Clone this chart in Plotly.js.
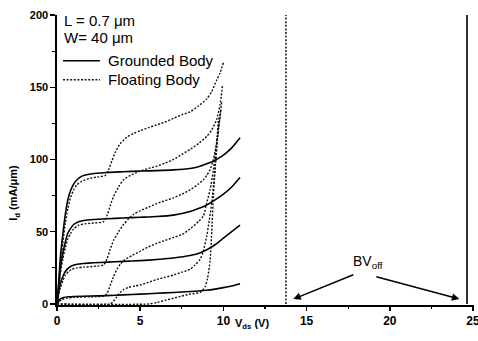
<!DOCTYPE html>
<html>
<head>
<meta charset="utf-8">
<script src="https://cdn.plot.ly/plotly-3.0.1.min.js"></script>
<style>html,body{margin:0;padding:0;background:#fff;}#chart{width:478px;height:341px;}</style>
</head>
<body>
<div id="chart"></div>
<script>
// Grounded body (solid) curves: Vds (V) and Id (mA/um)
var g1V = [0, 0.1, 0.2, 0.35, 0.5, 0.65, 0.8, 1.0, 1.2, 1.5, 2, 3, 4, 5, 6, 7, 8, 8.5, 9, 9.5, 10, 10.5, 11];
var g1I = [0, 15, 32, 48, 62, 72, 78, 83, 86, 88.5, 90, 91, 91.5, 92, 92.3, 92.8, 93.8, 95, 97, 99.5, 103, 108, 115];
var g2V = [0, 0.1, 0.2, 0.35, 0.5, 0.65, 0.8, 1.0, 1.3, 1.7, 2.2, 3, 4, 5, 6, 7, 8, 8.5, 9, 9.5, 10, 10.5, 11];
var g2I = [0, 12, 24, 35, 43, 49, 52, 55, 57, 58, 58.5, 59, 59.5, 60, 60.5, 61.5, 64, 66, 68.5, 72, 76, 81, 87.5];
var g3V = [0, 0.1, 0.2, 0.35, 0.5, 0.7, 0.9, 1.2, 1.6, 2.2, 3, 4, 5, 6, 7, 8, 8.5, 9, 9.5, 10, 10.5, 11];
var g3I = [0, 8, 14, 19, 22.5, 25, 26.5, 27.5, 28, 28.5, 29, 29.5, 30, 30.8, 31.8, 33.5, 35, 37.5, 41, 45.5, 50, 54.5];
var g4V = [0, 0.1, 0.2, 0.4, 0.7, 1, 2, 3, 4, 5, 6, 7, 8, 9, 9.5, 10, 10.5, 11];
var g4I = [0, 2, 3.5, 4.5, 5, 5.2, 5.5, 5.8, 6.3, 6.8, 7.4, 8, 8.6, 9.5, 10.3, 11.3, 12.5, 14];

// Floating body (dotted) curves
var f1V = [0, 0.1, 0.2, 0.35, 0.5, 0.65, 0.8, 1.0, 1.2, 1.5, 2, 2.5, 2.9, 3.1, 3.3, 3.5, 3.8, 4.2, 4.6, 5, 5.5, 6, 6.5, 7, 7.5, 8, 8.5, 9, 9.3, 9.6, 9.8, 10.0];
var f1I = [0, 12, 27, 42, 56, 66, 73, 79, 82.5, 85, 87, 88, 89, 93, 99, 105, 111, 115.5, 118, 120, 122, 124, 126, 128.5, 131, 133, 137, 142, 147, 155, 160, 167];
var f2V = [0, 0.1, 0.2, 0.35, 0.5, 0.65, 0.8, 1.0, 1.3, 1.7, 2.2, 2.8, 3.0, 3.2, 3.4, 3.7, 4.0, 4.5, 5, 5.5, 6, 6.5, 7, 7.5, 8, 8.5, 9, 9.3, 9.6, 9.8, 9.95];
var f2I = [0, 10, 21, 31, 39, 45, 48.5, 52, 54.5, 55.5, 56, 57, 61, 68, 74.5, 81, 86, 89.5, 92, 93.8, 95.4, 97.5, 100, 103.5, 107, 111, 116, 120.5, 128, 138, 152];
var f3V = [0, 0.1, 0.2, 0.35, 0.5, 0.7, 0.9, 1.2, 1.6, 2.2, 2.8, 3.0, 3.2, 3.4, 3.7, 4.0, 4.3, 4.6, 5, 5.5, 6, 6.5, 7, 7.5, 8, 8.5, 8.8, 9.0, 9.2, 9.4, 9.6, 9.75, 9.9];
var f3I = [0, 6, 11, 16, 20, 22.5, 24, 25, 25.5, 26, 27, 31, 38, 44, 50, 55, 59, 62, 64.5, 67, 69.5, 71.5, 73.5, 76, 79, 83, 86, 89, 93, 100, 112, 125, 140];
var f4V = [0, 0.1, 0.3, 0.6, 1, 2, 2.8, 3.0, 3.2, 3.4, 3.6, 3.8, 4.0, 4.5, 5, 5.5, 6, 6.5, 7, 7.5, 8, 8.5, 8.8, 9.0, 9.2, 9.4, 9.6, 9.85];
var f4I = [0, 1.5, 3, 4, 4.5, 5, 5.5, 7, 13, 19, 24, 27.5, 30, 33.5, 36.5, 39.5, 42, 44, 46, 48, 52, 57, 61, 70, 79, 93, 112, 135];
var f5V = [0, 3.2, 3.4, 3.6, 3.8, 4.0, 4.3, 4.7, 5, 5.5, 6, 6.5, 7, 7.5, 8, 8.3, 8.6, 8.8, 9.0, 9.15, 9.3, 9.45, 9.6, 9.75];
var f5I = [0, 0, 2, 5, 8, 10, 11.5, 12.5, 13.2, 15, 17, 18.5, 20, 22, 24, 27, 31, 37, 47, 58, 70, 88, 108, 130];
var f6V = [0, 5.5, 6, 6.5, 7, 7.5, 8, 8.6, 8.9, 9.05, 9.2, 9.3, 9.4, 9.5, 9.6, 9.7];
var f6I = [0, 0, 1, 2.5, 4, 5.5, 6.9, 8, 12, 18, 30, 50, 75, 93, 110, 128];

// Off-state breakdown (BVoff) curves
var bvFloatV = [13.76, 13.76];
var bvFloatI = [0, 200];
var bvGroundV = [24.64, 24.64];
var bvGroundI = [0, 200];

// Tick labels
var xTicks = [0, 5, 10, 15, 20, 25];
var yTicks = [0, 50, 100, 150, 200];

var DOT = '2px,1.6px';
var FONT = 'Arial, "Liberation Sans", sans-serif';

function solid(x, y) {
  return {x: x, y: y, type: 'scatter', mode: 'lines', line: {color: '#000', width: 1.6, shape: 'spline', smoothing: 0.6}, hoverinfo: 'skip'};
}
function dotted(x, y) {
  return {x: x, y: y, type: 'scatter', mode: 'lines', line: {color: '#111', width: 1.4, dash: DOT, shape: 'spline', smoothing: 0.6}, hoverinfo: 'skip'};
}

var data = [
  solid(g1V, g1I), solid(g2V, g2I), solid(g3V, g3I), solid(g4V, g4I),
  dotted(f1V, f1I), dotted(f2V, f2I), dotted(f3V, f3I), dotted(f4V, f4I), dotted(f5V, f5I), dotted(f6V, f6I),
  {x: bvFloatV, y: bvFloatI, type: 'scatter', mode: 'lines', line: {color: '#111', width: 1.5, dash: DOT}, hoverinfo: 'skip'},
  {x: bvGroundV, y: bvGroundI, type: 'scatter', mode: 'lines', line: {color: '#000', width: 1.6}, hoverinfo: 'skip'}
];

var layout = {
  width: 478, height: 341,
  margin: {l: 57, r: 4, t: 15, b: 36},
  paper_bgcolor: '#fff', plot_bgcolor: '#fff',
  showlegend: false,
  font: {family: FONT, color: '#000'},
  xaxis: {
    range: [0, 25.06], tickvals: xTicks, ticktext: xTicks.map(String),
    ticklabeloverflow: 'allow',
    showgrid: false, zeroline: false, showline: true, linecolor: '#000', linewidth: 1.6,
    ticks: 'outside', ticklen: 4, tickwidth: 1.5, tickcolor: '#000',
    minor: {dtick: 2.5, ticks: 'outside', ticklen: 2.5, tickwidth: 1.2, tickcolor: '#000', showgrid: false},
    tickfont: {family: FONT, size: 12, weight: 'bold', color: '#000'}
  },
  yaxis: {
    range: [-0.7, 200], tickvals: yTicks, ticktext: yTicks.map(String),
    showgrid: false, zeroline: false, showline: true, linecolor: '#000', linewidth: 1.6,
    ticks: 'outside', ticklen: 5, tickwidth: 1.5, tickcolor: '#000',
    minor: {dtick: 25, ticks: 'outside', ticklen: 3, tickwidth: 1.2, tickcolor: '#000', showgrid: false},
    tickfont: {family: FONT, size: 11, weight: 'bold', color: '#000'}
  },
  shapes: [
    {type: 'line', xref: 'x', yref: 'y', x0: 0.36, x1: 2.58, y0: 168.3, y1: 168.3, line: {color: '#000', width: 1.6}},
    {type: 'line', xref: 'x', yref: 'y', x0: 0.36, x1: 2.58, y0: 155.2, y1: 155.2, line: {color: '#111', width: 1.4, dash: DOT}}
  ],
  annotations: [
    {text: 'L = 0.7 \u03bcm', x: 0.28, y: 195.9, xref: 'x', yref: 'y', xanchor: 'left', yanchor: 'middle', showarrow: false, font: {size: 15, family: FONT}},
    {text: 'W= 40 \u03bcm', x: 0.28, y: 184.5, xref: 'x', yref: 'y', xanchor: 'left', yanchor: 'middle', showarrow: false, font: {size: 15, family: FONT}},
    {text: 'Grounded Body', x: 2.95, y: 168.3, xref: 'x', yref: 'y', xanchor: 'left', yanchor: 'middle', showarrow: false, font: {size: 15, family: FONT}},
    {text: 'Floating Body', x: 2.95, y: 155.2, xref: 'x', yref: 'y', xanchor: 'left', yanchor: 'middle', showarrow: false, font: {size: 15, family: FONT}},
    {text: 'I<sub>d</sub> (mA/\u03bcm)', x: -0.103, y: 77, xref: 'paper', yref: 'y', textangle: -90, xanchor: 'center', yanchor: 'middle', showarrow: false, font: {size: 11, family: FONT, weight: 'bold'}},
    {text: 'V<sub>ds</sub> (V)', x: 11.7, y: -0.065, xref: 'x', yref: 'paper', xanchor: 'center', yanchor: 'middle', showarrow: false, font: {size: 11, family: FONT, weight: 'bold'}},
    {text: 'BV<sub>off</sub>', x: 18.7, y: 29, xref: 'x', yref: 'y', xanchor: 'center', yanchor: 'middle', showarrow: false, font: {size: 14, family: FONT}},
    {text: '', x: 14.2, y: 3.4, ax: 17.9, ay: 20.7, xref: 'x', yref: 'y', axref: 'x', ayref: 'y', showarrow: true, arrowhead: 2, arrowsize: 1, arrowwidth: 1.5, arrowcolor: '#000'},
    {text: '', x: 24.18, y: 3.4, ax: 19.1, ay: 19.1, xref: 'x', yref: 'y', axref: 'x', ayref: 'y', showarrow: true, arrowhead: 2, arrowsize: 1, arrowwidth: 1.5, arrowcolor: '#000'}
  ]
};

Plotly.newPlot('chart', data, layout, {staticPlot: true, displayModeBar: false});
</script>
</body>
</html>
